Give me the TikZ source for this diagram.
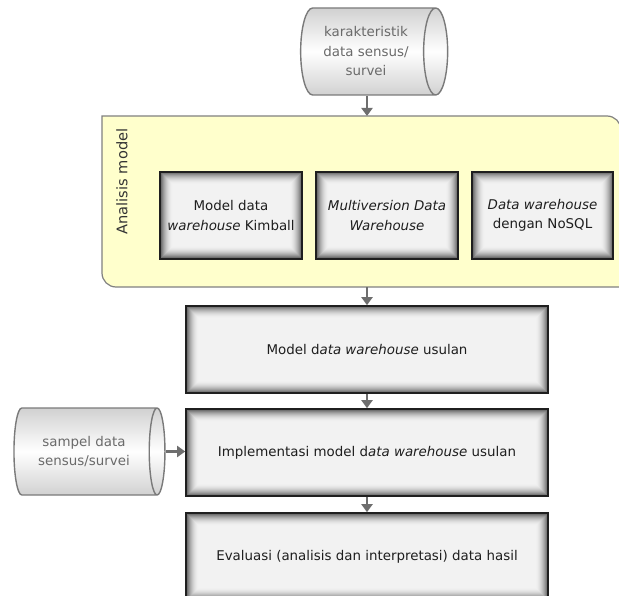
\documentclass[tikz,border=0pt]{standalone}
\usepackage{fontspec}
\setmainfont{DejaVu Sans}
\usetikzlibrary{shapes.geometric,arrows.meta,calc}

\definecolor{panel}{HTML}{FFFFCC}
\definecolor{panelline}{HTML}{808080}
\definecolor{flowgray}{HTML}{6E6E6E}
\definecolor{cylline}{HTML}{7A7A7A}
\definecolor{cyltext}{HTML}{6A6A6A}
\definecolor{boxtext}{HTML}{1E1E1E}
\definecolor{labeltext}{HTML}{333333}

\tikzset{
  glow/.style={path picture={
    \foreach \k in {0,...,26}{
      \pgfmathsetmacro\sh{5+60*(1-\k/26)^2}
      \pgfmathsetmacro\d{0.5*\k}
      \fill[black!\sh]
        ([shift={(\d pt,\d pt)}]path picture bounding box.south west) rectangle
        ([shift={(-\d pt,-\d pt)}]path picture bounding box.north east);
    }}},
  stepbox/.style={rectangle, draw=black!88, line width=1.6pt, fill=black!5, glow,
    inner sep=2pt, minimum height=87pt, text=boxtext, align=center,
    font=\fontsize{13.4}{19.5}\selectfont},
  store/.style={cylinder, shape aspect=0.45, draw=cylline, line width=1.4pt,
    top color=black!18, bottom color=black!18, middle color=white,
    minimum width=87pt, inner sep=2pt, text=cyltext, align=center,
    font=\fontsize{13.4}{19.5}\selectfont},
  flow/.style={draw=flowgray, line width=2.6pt, -{Triangle[width=11pt,length=8pt]}},
}

\begin{document}
\begin{tikzpicture}[x=1pt,y=-1pt]
  \useasboundingbox (0,0) rectangle (619,596);
  \clip (0,0) rectangle (619,596);

  % axis of the main flow
  \coordinate (spine) at (367,0);

  % analysis panel
  \fill[panel] (102,116) -- (607,116) .. controls (614.7,116) and (621,122.3) .. (621,130)
    -- (621,287) -- (116,287) .. controls (108.3,287) and (102,280.7) .. (102,273) -- cycle;
  \draw[panelline, line width=1.2pt] (102,116) -- (607,116) .. controls (614.7,116) and (621,122.3) .. (621,130)
    -- (621,287) -- (116,287) .. controls (108.3,287) and (102,280.7) .. (102,273) -- cycle;
  \node[minimum width=519pt, minimum height=171pt, inner sep=0, anchor=north west] (analisis) at (102,116) {};
  \node[rotate=90, text=labeltext, font=\fontsize{14.6}{16}\selectfont] (analisislabel) at (122,181.5) {Analisis model};

  % data sources
  \node[store, minimum height=147pt] (karakter) at (366,51.5)
    {karakteristik\\data sensus/\\survei};
  \node[store, minimum height=151pt] (sampel) at (84,451.5)
    {sampel data\\sensus/survei};

  % models under analysis
  \node[stepbox, minimum width=142pt] (kimball) at (231,215.5)
    {Model data\\\textit{warehouse} Kimball};
  \node[stepbox, minimum width=142pt] (multiversion) at (387,215.5)
    {\textit{Multiversion Data}\\\textit{Warehouse}};
  \node[stepbox, minimum width=141pt] (nosql) at (542.5,215.5)
    {\textit{Data warehouse}\\dengan NoSQL};

  % main steps
  \node[stepbox, minimum width=362pt] (usulan) at (367,349.5)
    {Model d\textit{ata warehouse} usulan};
  \node[stepbox, minimum width=362pt] (implementasi) at (367,452.5)
    {Implementasi model d\textit{ata warehouse} usulan};
  \node[stepbox, minimum width=362pt] (evaluasi) at (367,556.5)
    {Evaluasi (analisis dan interpretasi) data hasil};

  % connectors
  \draw[flow] (karakter.south -| spine) -- (analisis.north -| spine);
  \draw[flow] (analisis.south -| spine) -- (usulan.north);
  \draw[flow] (usulan.south) -- (implementasi.north);
  \draw[flow] (implementasi.south) -- (evaluasi.north);
  \draw[flow] (sampel.east) -- (sampel.east -| implementasi.west);
\end{tikzpicture}
\end{document}
